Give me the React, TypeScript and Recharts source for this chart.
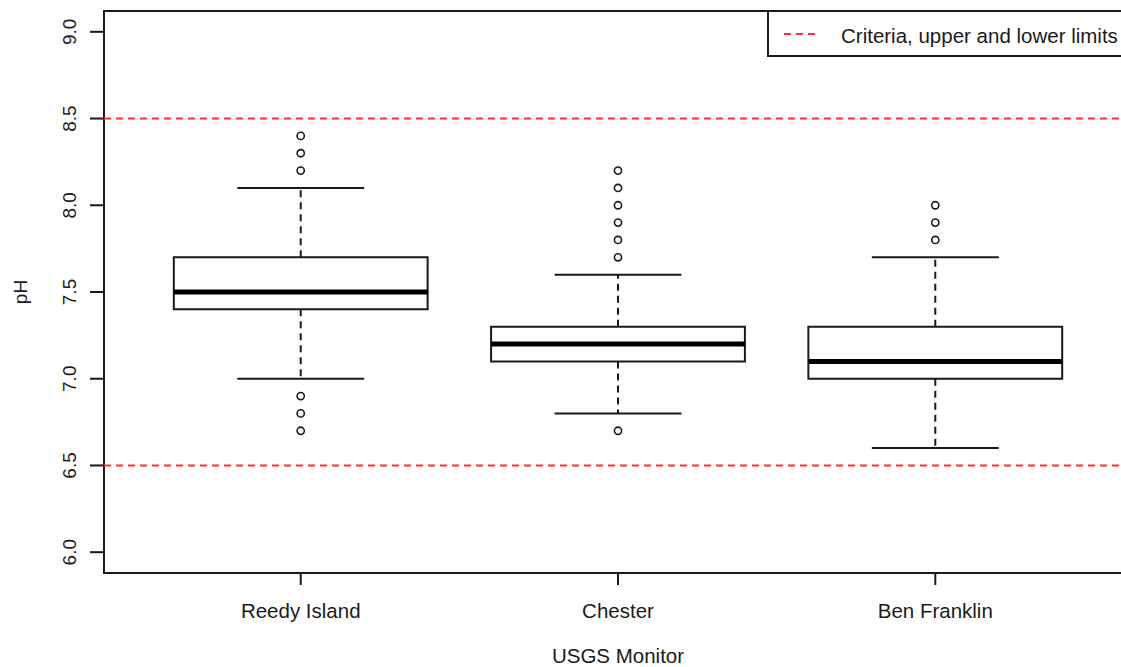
import React from "react";
import {
  ComposedChart,
  XAxis,
  YAxis,
  Scatter,
  ReferenceArea,
  ReferenceLine,
  Legend,
} from "recharts";

// ── data ──
const stations = ["Reedy Island", "Chester", "Ben Franklin"];
const lowerWhisker = [7.0, 6.8, 6.6];
const q1 = [7.4, 7.1, 7.0];
const median = [7.5, 7.2, 7.1];
const q3 = [7.7, 7.3, 7.3];
const upperWhisker = [8.1, 7.6, 7.7];
const outliers = [
  [8.2, 8.3, 8.4, 6.9, 6.8, 6.7],
  [7.7, 7.8, 7.9, 8.0, 8.1, 8.2, 6.7],
  [7.8, 7.9, 8.0],
];
const criteria = [8.5, 6.5];
const yTicks = [6.0, 6.5, 7.0, 7.5, 8.0, 8.5, 9.0];
const legendLabel = "Criteria, upper and lower limits";

const FONT = '"Liberation Sans", Arial, Helvetica, sans-serif';
const INK = "#1a1a1a";
const RED = "#ff3030";
const TXT = 20.5;
const X_DOMAIN: [number, number] = [0.38, 3.62];
const Y_DOMAIN: [number, number] = [5.88, 9.12];
const BOX_HALF = 0.4;
const CAP_HALF = 0.2;

const outlierPoints = outliers.flatMap((vals, i) => vals.map((v) => ({ x: i + 1, y: v })));

const YTick = (props: any) => {
  const { x, y, payload } = props;
  return (
    <text
      x={x}
      y={y}
      transform={`rotate(-90 ${x} ${y})`}
      textAnchor="middle"
      fontSize={19}
      fontFamily={FONT}
      fill={INK}
    >
      {Number(payload.value).toFixed(1)}
    </text>
  );
};

const LegendBox = () => (
  <div style={{ width: 366, height: 47, border: `2px solid ${INK}`, boxSizing: "border-box", background: "#fff" }}>
    <svg width={366} height={45} style={{ display: "block", overflow: "visible" }}>
      <line x1={15} x2={51} y1={22} y2={22} stroke={RED} strokeWidth={2} strokeDasharray="7 5" />
      <text x={72} y={31} fontSize={TXT} fontFamily={FONT} fill={INK}>
        {legendLabel}
      </text>
    </svg>
  </div>
);

export default function App() {
  return (
    <div
      style={{
        position: "absolute",
        left: 0,
        top: 0,
        width: 1121,
        height: 667,
        overflow: "hidden",
        background: "#fff",
      }}
    >
      <ComposedChart width={1159} height={667} margin={{ top: 11, right: 27, bottom: 0, left: 0 }}>
        <XAxis
          type="number"
          dataKey="x"
          domain={X_DOMAIN}
          ticks={[1, 2, 3]}
          tickFormatter={(v: number) => stations[v - 1] ?? ""}
          allowDataOverflow
          axisLine={false}
          tickSize={12}
          tickMargin={18}
          height={94}
          tickLine={{ stroke: INK, strokeWidth: 2 }}
          tick={{ fill: INK, fontSize: TXT, fontFamily: FONT }}
          label={{
            content: (p: any) => {
              const vb = p.viewBox;
              return (
                <text
                  x={vb.x + vb.width / 2}
                  y={vb.y + 90}
                  textAnchor="middle"
                  fontSize={TXT}
                  fontFamily={FONT}
                  fill={INK}
                >
                  USGS Monitor
                </text>
              );
            },
          }}
        />
        <YAxis
          type="number"
          dataKey="y"
          domain={Y_DOMAIN}
          ticks={yTicks}
          allowDataOverflow
          width={104}
          axisLine={false}
          tickSize={14}
          tickMargin={14}
          tickLine={{ stroke: INK, strokeWidth: 2 }}
          tick={(p: any) => <YTick {...p} />}
          label={{
            content: (p: any) => {
              const vb = p.viewBox;
              const cx = vb.x + 27;
              const cy = vb.y + vb.height / 2;
              return (
                <text
                  x={cx}
                  y={cy}
                  transform={`rotate(-90 ${cx} ${cy})`}
                  textAnchor="middle"
                  fontSize={19}
                  fontFamily={FONT}
                  fill={INK}
                >
                  pH
                </text>
              );
            },
          }}
        />

        {/* criteria limits */}
        {criteria.map((c) => (
          <ReferenceLine key={`crit-${c}`} y={c} stroke={RED} strokeWidth={2} strokeDasharray="7 5" />
        ))}

        {/* whiskers */}
        {stations.map((s, i) => (
          <ReferenceLine
            key={`wu-${s}`}
            segment={[
              { x: i + 1, y: q3[i] },
              { x: i + 1, y: upperWhisker[i] },
            ]}
            stroke={INK}
            strokeWidth={2}
            strokeDasharray="7 5"
          />
        ))}
        {stations.map((s, i) => (
          <ReferenceLine
            key={`wl-${s}`}
            segment={[
              { x: i + 1, y: q1[i] },
              { x: i + 1, y: lowerWhisker[i] },
            ]}
            stroke={INK}
            strokeWidth={2}
            strokeDasharray="7 5"
          />
        ))}
        {/* whisker caps */}
        {stations.map((s, i) => (
          <ReferenceLine
            key={`cu-${s}`}
            segment={[
              { x: i + 1 - CAP_HALF, y: upperWhisker[i] },
              { x: i + 1 + CAP_HALF, y: upperWhisker[i] },
            ]}
            stroke={INK}
            strokeWidth={2}
          />
        ))}
        {stations.map((s, i) => (
          <ReferenceLine
            key={`cl-${s}`}
            segment={[
              { x: i + 1 - CAP_HALF, y: lowerWhisker[i] },
              { x: i + 1 + CAP_HALF, y: lowerWhisker[i] },
            ]}
            stroke={INK}
            strokeWidth={2}
          />
        ))}

        {/* boxes */}
        {stations.map((s, i) => (
          <ReferenceArea
            key={`box-${s}`}
            x1={i + 1 - BOX_HALF}
            x2={i + 1 + BOX_HALF}
            y1={q1[i]}
            y2={q3[i]}
            fill="none"
            fillOpacity={0}
            stroke={INK}
            strokeWidth={2}
          />
        ))}
        {/* medians */}
        {stations.map((s, i) => (
          <ReferenceLine
            key={`med-${s}`}
            segment={[
              { x: i + 1 - BOX_HALF, y: median[i] },
              { x: i + 1 + BOX_HALF, y: median[i] },
            ]}
            stroke="#000"
            strokeWidth={5}
          />
        ))}

        <Scatter
          data={outlierPoints}
          isAnimationActive={false}
          shape={(p: any) => (
            <circle cx={p.cx} cy={p.cy} r={3.6} fill="none" stroke={INK} strokeWidth={1.6} />
          )}
        />

        {/* plot frame */}
        <ReferenceArea
          x1={X_DOMAIN[0]}
          x2={X_DOMAIN[1]}
          y1={Y_DOMAIN[0]}
          y2={Y_DOMAIN[1]}
          fill="none"
          fillOpacity={0}
          stroke={INK}
          strokeWidth={2}
          ifOverflow="visible"
        />

        <Legend
          layout="horizontal"
          verticalAlign="middle"
          align="center"
          content={() => <LegendBox />}
          wrapperStyle={{ left: 767, top: 10, width: "auto", height: "auto" }}
        />
      </ComposedChart>
    </div>
  );
}
